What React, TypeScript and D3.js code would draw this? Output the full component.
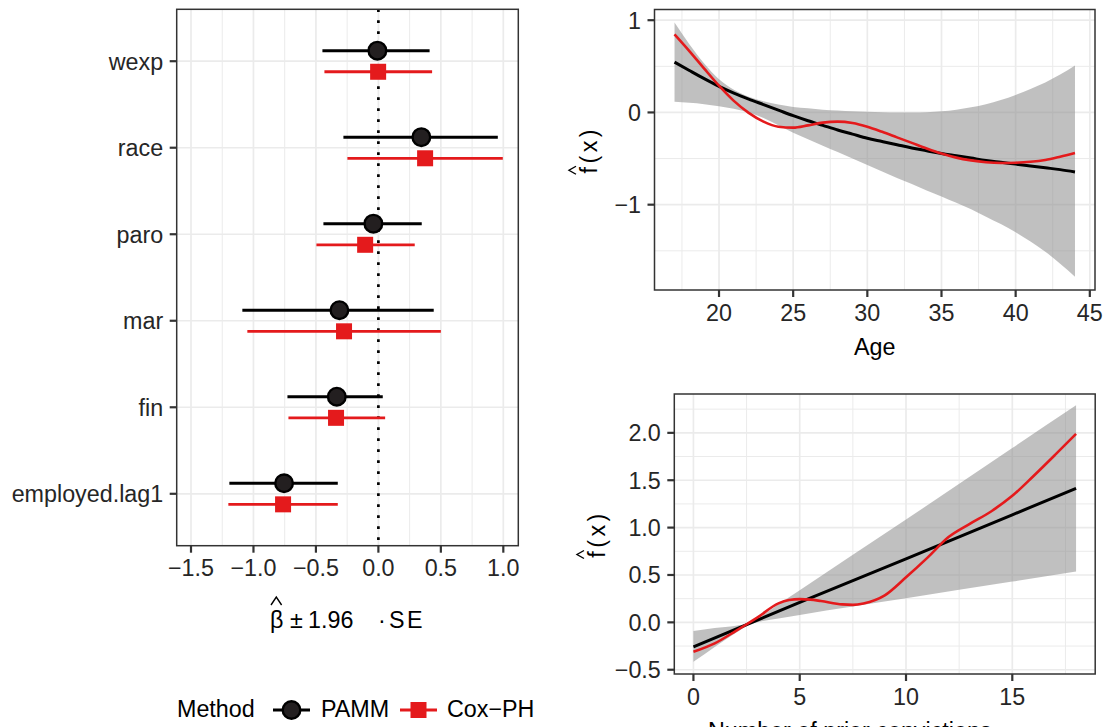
import React from 'react';
import * as d3 from 'd3';

const FONT = "'Liberation Sans', Arial, Helvetica, sans-serif";
const RED = '#E41A1C';
const TXT = '#262626';
const FS = 23.3;

// ---------- Left panel: coefficient estimates ----------
const categories = ['wexp', 'race', 'paro', 'mar', 'fin', 'employed.lag1'];
const pammEst = [-0.008, 0.344, -0.04, -0.312, -0.333, -0.755];
const pammLo = [-0.448, -0.28, -0.44, -1.089, -0.728, -1.193];
const pammHi = [0.41, 0.956, 0.347, 0.443, 0.035, -0.325];
const coxEst = [-0.002, 0.374, -0.106, -0.275, -0.339, -0.763];
const coxLo = [-0.432, -0.248, -0.496, -1.049, -0.72, -1.201];
const coxHi = [0.43, 0.996, 0.291, 0.5, 0.054, -0.325];
const coefDomain = [-1.6145, 1.12];
const coefTicks = [-1.5, -1, -0.5, 0, 0.5, 1];
const coefMinor = [-1.25, -0.75, -0.25, 0.25, 0.75];

// ---------- Top right: Age ----------
const ageGrid = [17, 18, 19, 20, 21, 22, 23, 24, 25, 26, 27, 28, 29, 30, 31, 32, 33, 34, 35, 36, 37, 38, 39, 40, 41, 42, 43, 44];
const agePamm = [0.546, 0.455, 0.366, 0.283, 0.21, 0.145, 0.085, 0.025, -0.035, -0.09, -0.14, -0.19, -0.235, -0.28, -0.315, -0.35, -0.385, -0.415, -0.445, -0.47, -0.495, -0.52, -0.54, -0.56, -0.58, -0.6, -0.62, -0.645];
const ageCox = [0.846, 0.665, 0.475, 0.29, 0.125, -0.005, -0.1, -0.155, -0.165, -0.14, -0.11, -0.1, -0.115, -0.155, -0.21, -0.27, -0.33, -0.39, -0.445, -0.49, -0.52, -0.54, -0.548, -0.545, -0.535, -0.515, -0.48, -0.44];
const ageUpper = [0.975, 0.74, 0.53, 0.36, 0.245, 0.17, 0.12, 0.085, 0.06, 0.045, 0.03, 0.02, 0.012, 0.007, 0.003, 0.0, 0.0, 0.003, 0.012, 0.03, 0.055, 0.09, 0.135, 0.19, 0.255, 0.325, 0.41, 0.51];
const ageLower = [0.115, 0.105, 0.09, 0.068, 0.04, 0.0, -0.06, -0.14, -0.22, -0.29, -0.36, -0.43, -0.5, -0.57, -0.64, -0.71, -0.775, -0.845, -0.91, -0.98, -1.05, -1.13, -1.21, -1.3, -1.4, -1.51, -1.64, -1.78];
const ageXDomain = [15.65, 45.35];
const ageYDomain = [-1.925, 1.116];
const ageXTicks = [20, 25, 30, 35, 40, 45];
const ageXMinor = [17.5, 22.5, 27.5, 32.5, 37.5, 42.5];
const ageYTicks = [-1, 0, 1];
const ageYMinor = [-1.5, -0.5, 0.5];

// ---------- Bottom right: prior convictions ----------
const priorLineX = [0, 5, 10, 15, 18];
const priorPamm = [-0.258, 0.21, 0.67, 1.135, 1.415];
const priorGrid = [0, 1, 2, 3, 4, 4.5, 5, 5.5, 6, 7, 7.5, 8, 9, 10, 11, 12, 13, 14, 15, 16, 17, 18];
const priorCox = [-0.311, -0.222, -0.09, 0.05, 0.2, 0.235, 0.245, 0.24, 0.225, 0.19, 0.185, 0.2, 0.285, 0.475, 0.68, 0.9, 1.04, 1.17, 1.335, 1.545, 1.765, 1.99];
const priorBandX = [0, 1, 2, 2.5, 3, 4, 5, 10, 15, 18];
const priorUpper = [-0.09, -0.06, -0.035, -0.015, 0.04, 0.19, 0.34, 1.085, 1.84, 2.29];
const priorLower = [-0.417, -0.26, -0.11, -0.04, 0.0, 0.04, 0.078, 0.254, 0.43, 0.537];
const priorXDomain = [-0.9, 18.9];
const priorYDomain = [-0.545, 2.41];
const priorXTicks = [0, 5, 10, 15];
const priorXMinor = [2.5, 7.5, 12.5, 17.5];
const priorYTicks = [-0.5, 0, 0.5, 1, 1.5, 2];
const priorYMinor = [-0.25, 0.25, 0.75, 1.25, 1.75, 2.25];

type Box = { x0: number; x1: number; y0: number; y1: number };

function Frame({ box, xs, ys, xMajor, xMinor, yMajor, yMinor, xFmt, yFmt, children }: any) {
  const grid = '#EBEBEB';
  return (
    <g>
      <rect x={box.x0} y={box.y0} width={box.x1 - box.x0} height={box.y1 - box.y0} fill="#fff" />
      {xMinor.map((v: number) => (
        <line key={'xm' + v} x1={xs(v)} x2={xs(v)} y1={box.y0} y2={box.y1} stroke={grid} strokeWidth={1} />
      ))}
      {yMinor.map((v: number) => (
        <line key={'ym' + v} y1={ys(v)} y2={ys(v)} x1={box.x0} x2={box.x1} stroke={grid} strokeWidth={1} />
      ))}
      {xMajor.map((v: number) => (
        <line key={'xM' + v} x1={xs(v)} x2={xs(v)} y1={box.y0} y2={box.y1} stroke={grid} strokeWidth={1.7} />
      ))}
      {yMajor.map((v: any) => (
        <line key={'yM' + v} y1={ys(v)} y2={ys(v)} x1={box.x0} x2={box.x1} stroke={grid} strokeWidth={1.7} />
      ))}
      {children}
      <rect x={box.x0} y={box.y0} width={box.x1 - box.x0} height={box.y1 - box.y0} fill="none" stroke="#333" strokeWidth={1.5} />
      {xMajor.map((v: number) => (
        <g key={'xt' + v}>
          <line x1={xs(v)} x2={xs(v)} y1={box.y1} y2={box.y1 + 7} stroke="#333" strokeWidth={2.2} />
          <text x={xs(v)} y={box.y1 + 30.5} textAnchor="middle" fontSize={FS} fill={TXT} fontFamily={FONT}>{xFmt(v)}</text>
        </g>
      ))}
      {yMajor.map((v: any) => (
        <g key={'yt' + v}>
          <line x1={box.x0 - 7} x2={box.x0} y1={ys(v)} y2={ys(v)} stroke="#333" strokeWidth={2.2} />
          <text x={box.x0 - 13.5} y={ys(v)} dy="0.36em" textAnchor="end" fontSize={FS} fill={TXT} fontFamily={FONT}>{yFmt(v)}</text>
        </g>
      ))}
    </g>
  );
}

function FHat({ x, y }: { x: number; y: number }) {
  return (
    <g transform={`translate(${x},${y}) rotate(-90)`}>
      <text x={0} y={0} textAnchor="middle" fontSize={FS} fill="#000" fontFamily={FONT} style={{ letterSpacing: '3.5px' }}>f(x)</text>
      <path d="M-24.5,-21 L-20.5,-28 L-16.5,-21" fill="none" stroke="#000" strokeWidth={1.4} />
    </g>
  );
}

export default function App() {
  // Left panel
  const LB: Box = { x0: 176.7, x1: 518.3, y0: 9.3, y1: 545.7 };
  const xc = d3.scaleLinear().domain(coefDomain).range([LB.x0, LB.x1]);
  const yc = d3.scalePoint<string>().domain(categories).range([LB.y0, LB.y1]).padding(0.6);
  const dodge = yc.step() * 0.122;
  const f1 = d3.format('.1f');

  // Top right
  const TB: Box = { x0: 654.5, x1: 1095, y0: 9.5, y1: 290 };
  const xa = d3.scaleLinear().domain(ageXDomain).range([TB.x0, TB.x1]);
  const ya = d3.scaleLinear().domain(ageYDomain).range([TB.y1, TB.y0]);
  const ageLine = (vals: number[]) =>
    d3.line<number>().x((_, i) => xa(ageGrid[i])).y((d) => ya(d)).curve(d3.curveMonotoneX)(vals) || '';
  const ageArea =
    d3.area<number>().x((_, i) => xa(ageGrid[i])).y0((_, i) => ya(ageLower[i])).y1((d) => ya(d)).curve(d3.curveMonotoneX)(ageUpper) || '';

  // Bottom right
  const BB: Box = { x0: 674.3, x1: 1095.2, y0: 394, y1: 674 };
  const xp = d3.scaleLinear().domain(priorXDomain).range([BB.x0, BB.x1]);
  const yp = d3.scaleLinear().domain(priorYDomain).range([BB.y1, BB.y0]);
  const priorArea =
    d3.area<number>().x((_, i) => xp(priorBandX[i])).y0((_, i) => yp(priorLower[i])).y1((d) => yp(d)).curve(d3.curveMonotoneX)(priorUpper) || '';
  const pammPriorPath = d3.line<number>().x((_, i) => xp(priorLineX[i])).y((d) => yp(d))(priorPamm) || '';
  const coxPriorPath = d3.line<number>().x((_, i) => xp(priorGrid[i])).y((d) => yp(d)).curve(d3.curveMonotoneX)(priorCox) || '';

  const bandFill = '#8c8c8c';
  const bandOp = 0.55;

  return (
    <svg width={1112} height={727} style={{ position: 'absolute', left: 0, top: 0, display: 'block', background: '#fff' }} fontFamily={FONT}>
      <rect x={0} y={0} width={1112} height={727} fill="#fff" />

      {/* Left coefficient panel */}
      <Frame box={LB} xs={xc} ys={yc} xMajor={coefTicks} xMinor={coefMinor} yMajor={categories} yMinor={[]} xFmt={f1} yFmt={(v: string) => v}>
        <line x1={xc(0)} x2={xc(0)} y1={LB.y0} y2={LB.y1} stroke="#000" strokeWidth={2.7} strokeDasharray="2.7 8.3" />
        {categories.map((c, i) => {
          const yP = (yc(c) as number) - dodge;
          const yC = (yc(c) as number) + dodge;
          return (
            <g key={c}>
              <line x1={xc(pammLo[i])} x2={xc(pammHi[i])} y1={yP} y2={yP} stroke="#000" strokeWidth={3} />
              <circle cx={xc(pammEst[i])} cy={yP} r={8.8} fill="#231F20" stroke="#000" strokeWidth={2.4} />
              <line x1={xc(coxLo[i])} x2={xc(coxHi[i])} y1={yC} y2={yC} stroke={RED} strokeWidth={2.8} />
              <rect x={xc(coxEst[i]) - 8} y={yC - 8} width={16} height={16} fill={RED} />
            </g>
          );
        })}
      </Frame>

      {/* x-axis title: beta-hat ± 1.96 · SE */}
      <g fontSize={FS} fill="#000" fontFamily={FONT}>
        <text x={270} y={628}>β</text>
        <path d="M271,605 L276.3,597 L281.6,605" fill="none" stroke="#000" strokeWidth={1.4} />
        <text x={290} y={628}>±</text>
        <text x={308} y={628}>1.96</text>
        <text x={378} y={628}>·</text>
        <text x={389} y={628} style={{ letterSpacing: '2.5px' }}>SE</text>
      </g>

      {/* Legend */}
      <g fontSize={FS} fill="#000" fontFamily={FONT}>
        <text x={177} y={717}>Method</text>
        <line x1={273} x2={310} y1={710} y2={710} stroke="#000" strokeWidth={3} />
        <circle cx={291.5} cy={710} r={8.8} fill="#231F20" stroke="#000" strokeWidth={2.4} />
        <text x={321} y={717}>PAMM</text>
        <line x1={400} x2={437} y1={710} y2={710} stroke={RED} strokeWidth={2.8} />
        <rect x={410.5} y={702} width={16} height={16} fill={RED} />
        <text x={447} y={717}>Cox−PH</text>
      </g>

      {/* Top right: Age */}
      <Frame box={TB} xs={xa} ys={ya} xMajor={ageXTicks} xMinor={ageXMinor} yMajor={ageYTicks} yMinor={ageYMinor} xFmt={d3.format('d')} yFmt={d3.format('d')}>
        <path d={ageArea} fill={bandFill} fillOpacity={bandOp} />
        <path d={ageLine(agePamm)} fill="none" stroke="#000" strokeWidth={3} />
        <path d={ageLine(ageCox)} fill="none" stroke={RED} strokeWidth={2.6} />
      </Frame>
      <text x={(TB.x0 + TB.x1) / 2} y={355} textAnchor="middle" fontSize={FS} fill="#000" fontFamily={FONT}>Age</text>
      <FHat x={597} y={(TB.y0 + TB.y1) / 2} />

      {/* Bottom right: prior convictions */}
      <Frame box={BB} xs={xp} ys={yp} xMajor={priorXTicks} xMinor={priorXMinor} yMajor={priorYTicks} yMinor={priorYMinor} xFmt={d3.format('d')} yFmt={f1}>
        <path d={priorArea} fill={bandFill} fillOpacity={bandOp} />
        <path d={pammPriorPath} fill="none" stroke="#000" strokeWidth={3} />
        <path d={coxPriorPath} fill="none" stroke={RED} strokeWidth={2.6} />
      </Frame>
      <text x={708} y={739} fontSize={FS} fill="#000" fontFamily={FONT}>Number of prior convictions</text>
      <FHat x={605} y={(BB.y0 + BB.y1) / 2} />
    </svg>
  );
}
